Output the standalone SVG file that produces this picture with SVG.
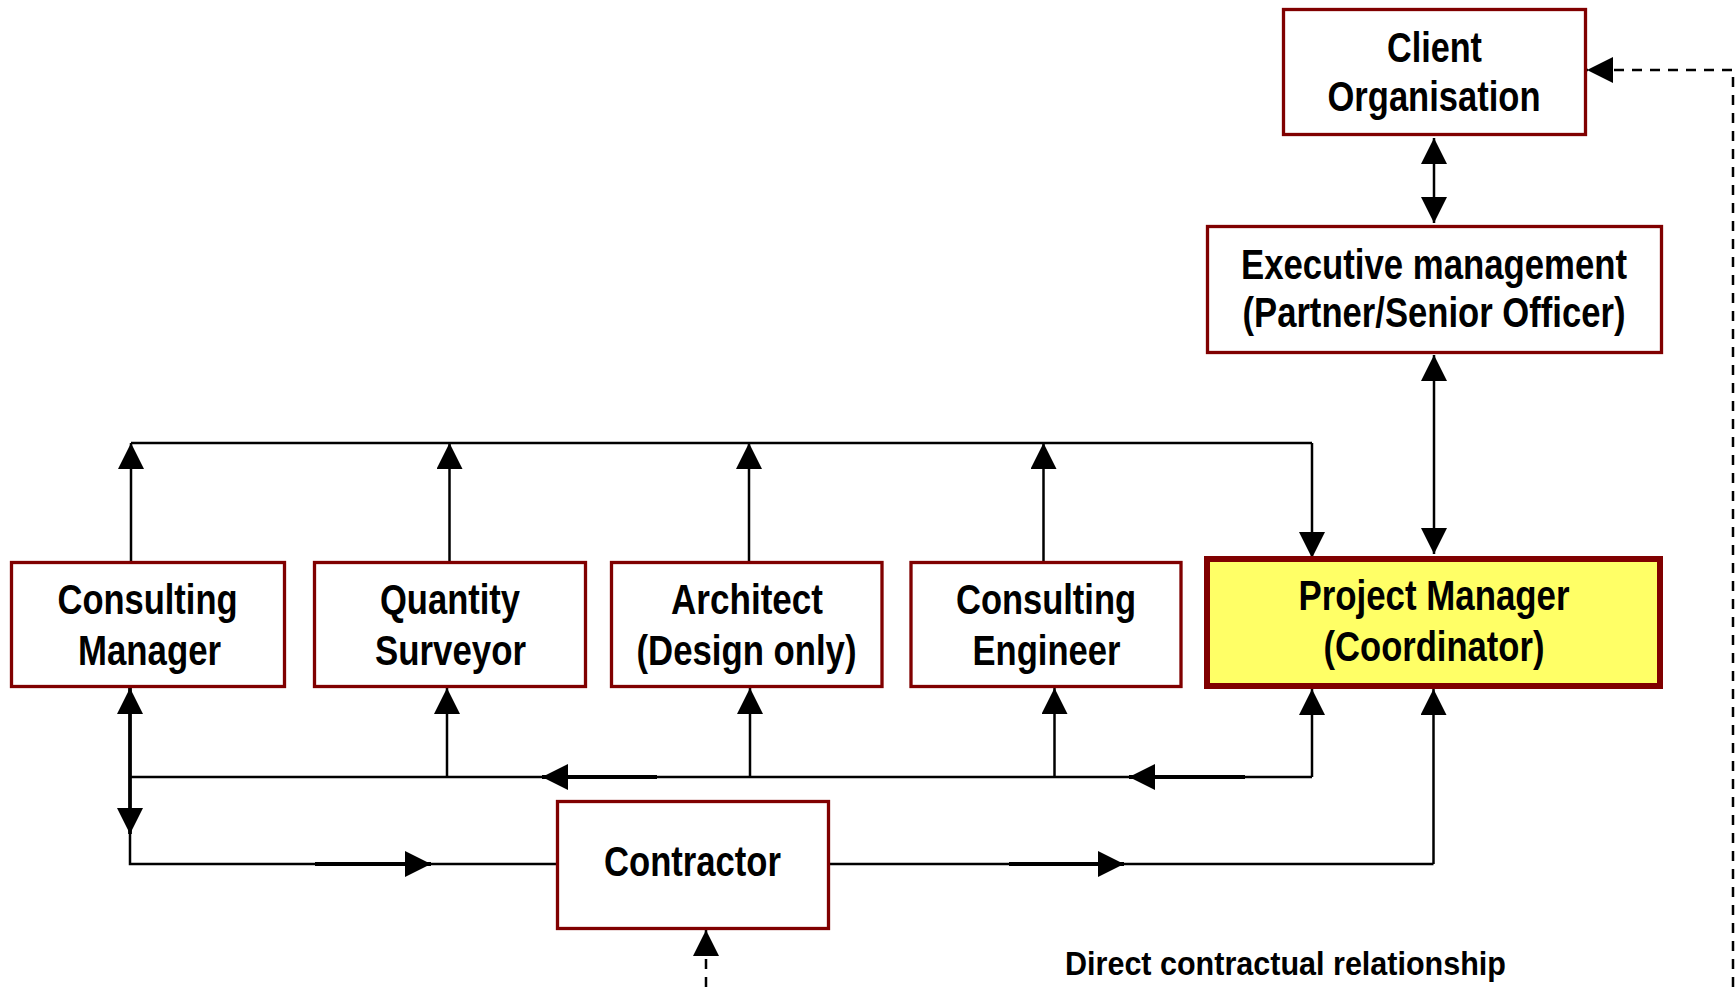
<svg xmlns="http://www.w3.org/2000/svg" width="1736" height="987" viewBox="0 0 1736 987">
<style>
.box{fill:#ffffff;stroke:#800000;stroke-width:3.3}
.pm{fill:#ffff66;stroke:#800000;stroke-width:6}
.t{font-family:"Liberation Sans Narrow","Liberation Sans",Arial,sans-serif;font-weight:bold;font-size:42px;fill:#000;text-anchor:middle}
.lg{font-family:"Liberation Sans Narrow","Liberation Sans",Arial,sans-serif;font-weight:bold;font-size:34px;fill:#000}
.ln{fill:none;stroke:#000;stroke-width:2.5}
.th{fill:none;stroke:#000;stroke-width:3.8}
.ds{fill:none;stroke:#000;stroke-width:2.5;stroke-dasharray:10 8}
.a{marker-end:url(#ah)}
.aa{marker-end:url(#ah);marker-start:url(#ahs)}
</style>
<defs>
<marker id="ah" markerUnits="userSpaceOnUse" markerWidth="26" markerHeight="26" refX="26" refY="13" orient="auto" viewBox="0 0 26 26">
<path d="M0,0 L26,13 L0,26 Z" fill="#000"/>
</marker>
<marker id="ahs" markerUnits="userSpaceOnUse" markerWidth="26" markerHeight="26" refX="26" refY="13" orient="auto-start-reverse" viewBox="0 0 26 26">
<path d="M0,0 L26,13 L0,26 Z" fill="#000"/>
</marker>
</defs>
<rect width="1736" height="987" fill="#ffffff"/>
<g id="connectors">
<path class="ln aa" d="M1434,138 L1434,223"/>
<path class="ln aa" d="M1434,355 L1434,554"/>
<path class="ln" d="M131,443 L1312,443"/>
<path class="ln a" d="M1312,443 L1312,558"/>
<path class="ln a" d="M131,561 L131,443"/>
<path class="ln a" d="M449.5,561 L449.5,443"/>
<path class="ln a" d="M749,561 L749,443"/>
<path class="ln a" d="M1043.5,561 L1043.5,443"/>
<path class="ln" d="M130,777 L1312,777"/>
<path class="ln a" d="M1312,777 L1312,689"/>
<path class="ln a" d="M447,777 L447,688"/>
<path class="ln a" d="M750,777 L750,688"/>
<path class="ln a" d="M1054.5,777 L1054.5,688"/>
<path class="th a" d="M657,777 L542,777"/>
<path class="th a" d="M1245,777 L1129,777"/>
<path class="th aa" d="M130,688 L130,834"/>
<path class="ln" d="M130,834 L130,864 L556,864"/>
<path class="th a" d="M315,864 L431,864"/>
<path class="ln" d="M830,864 L1433.5,864"/>
<path class="ln a" d="M1433.5,864 L1433.5,689"/>
<path class="th a" d="M1009,864 L1124,864"/>
<path class="ds a" d="M1733,987 L1733,70 L1587,70"/>
<path class="ds a" d="M706,987 L706,930"/>
</g>
<g id="client">
<rect class="box" x="1283.5" y="9.5" width="302" height="125"/>
<text class="t" x="1434.5" y="62" textLength="95" lengthAdjust="spacingAndGlyphs">Client</text>
<text class="t" x="1434" y="111" textLength="213" lengthAdjust="spacingAndGlyphs">Organisation</text>
</g>
<g id="executive">
<rect class="box" x="1207.5" y="226.5" width="454" height="126"/>
<text class="t" x="1434" y="279" textLength="386" lengthAdjust="spacingAndGlyphs">Executive management</text>
<text class="t" x="1434" y="327" textLength="383" lengthAdjust="spacingAndGlyphs">(Partner/Senior Officer)</text>
</g>
<g id="project-manager">
<rect class="pm" x="1207" y="559" width="453" height="127"/>
<text class="t" x="1434" y="610" textLength="271" lengthAdjust="spacingAndGlyphs">Project Manager</text>
<text class="t" x="1434" y="661" textLength="221" lengthAdjust="spacingAndGlyphs">(Coordinator)</text>
</g>
<g id="consulting-manager">
<rect class="box" x="11.5" y="562.5" width="273" height="124"/>
<text class="t" x="147.5" y="614" textLength="180" lengthAdjust="spacingAndGlyphs">Consulting</text>
<text class="t" x="149.5" y="665" textLength="143" lengthAdjust="spacingAndGlyphs">Manager</text>
</g>
<g id="quantity-surveyor">
<rect class="box" x="314.5" y="562.5" width="271" height="124"/>
<text class="t" x="450" y="614" textLength="140" lengthAdjust="spacingAndGlyphs">Quantity</text>
<text class="t" x="450.5" y="665" textLength="151" lengthAdjust="spacingAndGlyphs">Surveyor</text>
</g>
<g id="architect">
<rect class="box" x="611.5" y="562.5" width="270.5" height="124"/>
<text class="t" x="747" y="614" textLength="152" lengthAdjust="spacingAndGlyphs">Architect</text>
<text class="t" x="746.5" y="665" textLength="220" lengthAdjust="spacingAndGlyphs">(Design only)</text>
</g>
<g id="consulting-engineer">
<rect class="box" x="911" y="562.5" width="270" height="124"/>
<text class="t" x="1046" y="614" textLength="180" lengthAdjust="spacingAndGlyphs">Consulting</text>
<text class="t" x="1046.5" y="665" textLength="148" lengthAdjust="spacingAndGlyphs">Engineer</text>
</g>
<g id="contractor">
<rect class="box" x="557.5" y="801.5" width="271" height="127"/>
<text class="t" x="692.5" y="876" textLength="177" lengthAdjust="spacingAndGlyphs">Contractor</text>
</g>
<g id="legend">
<text class="lg" x="1065" y="975" textLength="441" lengthAdjust="spacingAndGlyphs">Direct contractual relationship</text>
</g>
</svg>
